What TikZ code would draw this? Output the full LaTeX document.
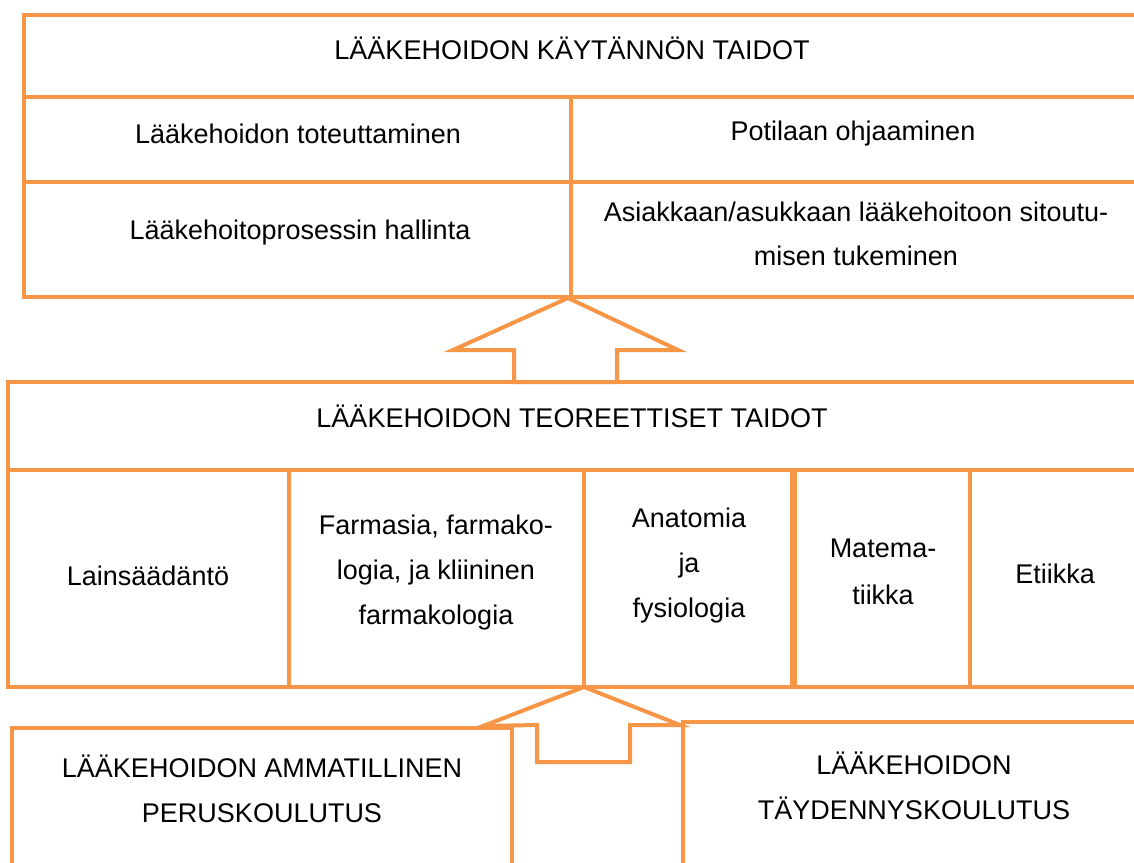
\documentclass[tikz,border=0pt]{standalone}
\usepackage{fontspec}
\setmainfont{Liberation Sans}
\definecolor{frame}{HTML}{F79646}
\begin{document}
\begin{tikzpicture}[x=1pt,y=-1pt,
  rule/.style={draw=frame,line width=4pt},
  thickrule/.style={draw=frame,line width=7pt},
  label/.style={font=\fontsize{27}{45}\selectfont,align=center,inner sep=0pt,text=black}]
\useasboundingbox (0,0) rectangle (1134,862);
\clip (0,0) rectangle (1134,862);
% top table
\draw[rule] (1140,15) -- (24,15) -- (24,297) -- (1140,297);
\draw[rule] (24,97) -- (1140,97);
\draw[rule] (24,182) -- (1140,182);
\draw[rule] (571,97) -- (571,297);
% upper arrow
\draw[rule,line join=miter] (453,350) -- (568,298) -- (678,350) -- (617,350) -- (617,382) -- (514,382) -- (514,350) -- cycle;
% middle table
\draw[rule] (1140,382) -- (8,382) -- (8,687) -- (1140,687);
\draw[rule] (8,470) -- (1140,470);
\draw[rule] (289,470) -- (289,687);
\draw[rule] (584,470) -- (584,687);
\draw[thickrule] (793,470) -- (793,687);
\draw[rule] (970,470) -- (970,687);
% lower arrow
\draw[rule,line join=miter] (483,726) -- (584,687) -- (680,725) -- (630,725) -- (630,762) -- (537,762) -- (537,725) -- cycle;
% bottom boxes
\draw[rule] (12,870) -- (12,728) -- (512,728) -- (512,870);
\draw[rule] (683,870) -- (683,722) -- (1140,722);
% texts
\node[label,anchor=base] (t1) at (572,59) {LÄÄKEHOIDON KÄYTÄNNÖN TAIDOT};
\node[label,anchor=base] (t2) at (298,143) {Lääkehoidon toteuttaminen};
\node[label,anchor=base] (t3) at (853,140) {Potilaan ohjaaminen};
\node[label,anchor=base] (t4) at (300,239) {Lääkehoitoprosessin hallinta};
\node[label,font=\fontsize{27}{44}\selectfont] (t5) at (856,233.5) {Asiakkaan/asukkaan lääkehoitoon sitoutu-\\misen tukeminen};
\node[label,anchor=base] (m0) at (572,427) {LÄÄKEHOIDON TEOREETTISET TAIDOT};
\node[label,anchor=base] (m1) at (148,585) {Lainsäädäntö};
\node[label] (m2) at (436,573) {Farmasia, farmako-\\logia, ja kliininen\\farmakologia};
\node[label] (m3) at (689,566) {Anatomia\\ja\\fysiologia};
\node[label,font=\fontsize{27}{47}\selectfont] (m4) at (883,572) {Matema-\\tiikka};
\node[label,anchor=base] (m5) at (1055,583) {Etiikka};
\node[label] (b1) at (262,789) {LÄÄKEHOIDON AMMATILLINEN\\PERUSKOULUTUS};
\node[label] (b2) at (914,786) {LÄÄKEHOIDON\\TÄYDENNYSKOULUTUS};
\end{tikzpicture}
\end{document}
